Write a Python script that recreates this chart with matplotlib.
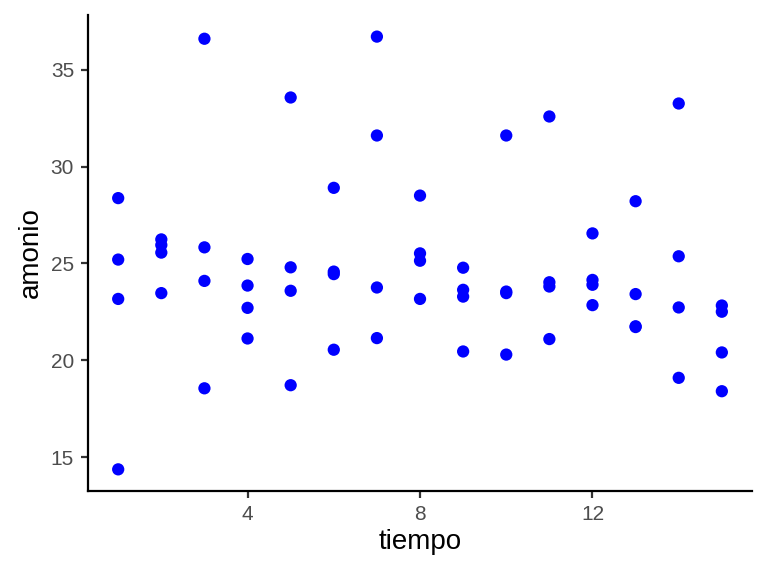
import matplotlib.pyplot as plt
import numpy as np

plt.rcParams['font.family'] = ['Liberation Sans', 'DejaVu Sans']

# tiempo / amonio values
tiempo = [1, 1, 1, 1,
          2, 2, 2, 2,
          3, 3, 3, 3,
          4, 4, 4, 4,
          5, 5, 5, 5,
          6, 6, 6, 6,
          7, 7, 7, 7,
          8, 8, 8, 8,
          9, 9, 9, 9,
          10, 10, 10, 10,
          11, 11, 11, 11,
          12, 12, 12, 12,
          13, 13, 13, 13,
          14, 14, 14, 14,
          15, 15, 15, 15]
amonio = [28.37, 25.2, 23.17, 14.38,
          26.24, 25.95, 25.56, 23.47,
          36.59, 25.83, 24.1, 18.56,
          25.23, 23.86, 22.71, 21.13,
          33.56, 24.8, 23.59, 18.72,
          28.9, 24.58, 24.45, 20.55,
          36.7, 31.6, 23.76, 21.15,
          28.5, 25.52, 25.14, 23.17,
          24.78, 23.64, 23.29, 20.46,
          31.6, 23.55, 23.47, 20.3,
          32.58, 24.03, 23.81, 21.1,
          26.55, 24.15, 23.9, 22.85,
          28.21, 23.42, 21.76, 21.72,
          33.25, 25.37, 22.73, 19.1,
          22.83, 22.51, 20.41, 18.41]

fig = plt.figure(figsize=(7.68, 5.76), dpi=100)
ax = fig.add_axes([0.1146, 0.1476, 0.8646, 0.8264])

ax.scatter(tiempo, amonio, s=78, color='#0000FF', edgecolors='none', zorder=3)

x = np.array(tiempo, dtype=float)
y = np.array(amonio)
xr = x.max() - x.min()
yr = y.max() - y.min()
ax.set_xlim(x.min() - 0.05 * xr, x.max() + 0.05 * xr)
ax.set_ylim(y.min() - 0.05 * yr, y.max() + 0.05 * yr)

ax.set_xticks([4, 8, 12])
ax.set_yticks([15, 20, 25, 30, 35])

for side in ['top', 'right']:
    ax.spines[side].set_visible(False)
for side in ['left', 'bottom']:
    ax.spines[side].set_linewidth(1.6)
    ax.spines[side].set_color('black')

ax.tick_params(axis='both', length=5, width=1.6, color='#333333',
               labelsize=15, labelcolor='#4D4D4D', pad=5)

ax.set_xlabel('tiempo', fontsize=20, color='black', labelpad=4)
ax.set_ylabel('amonio', fontsize=20, color='black', labelpad=5)

fig.savefig('out.png', dpi=100)
